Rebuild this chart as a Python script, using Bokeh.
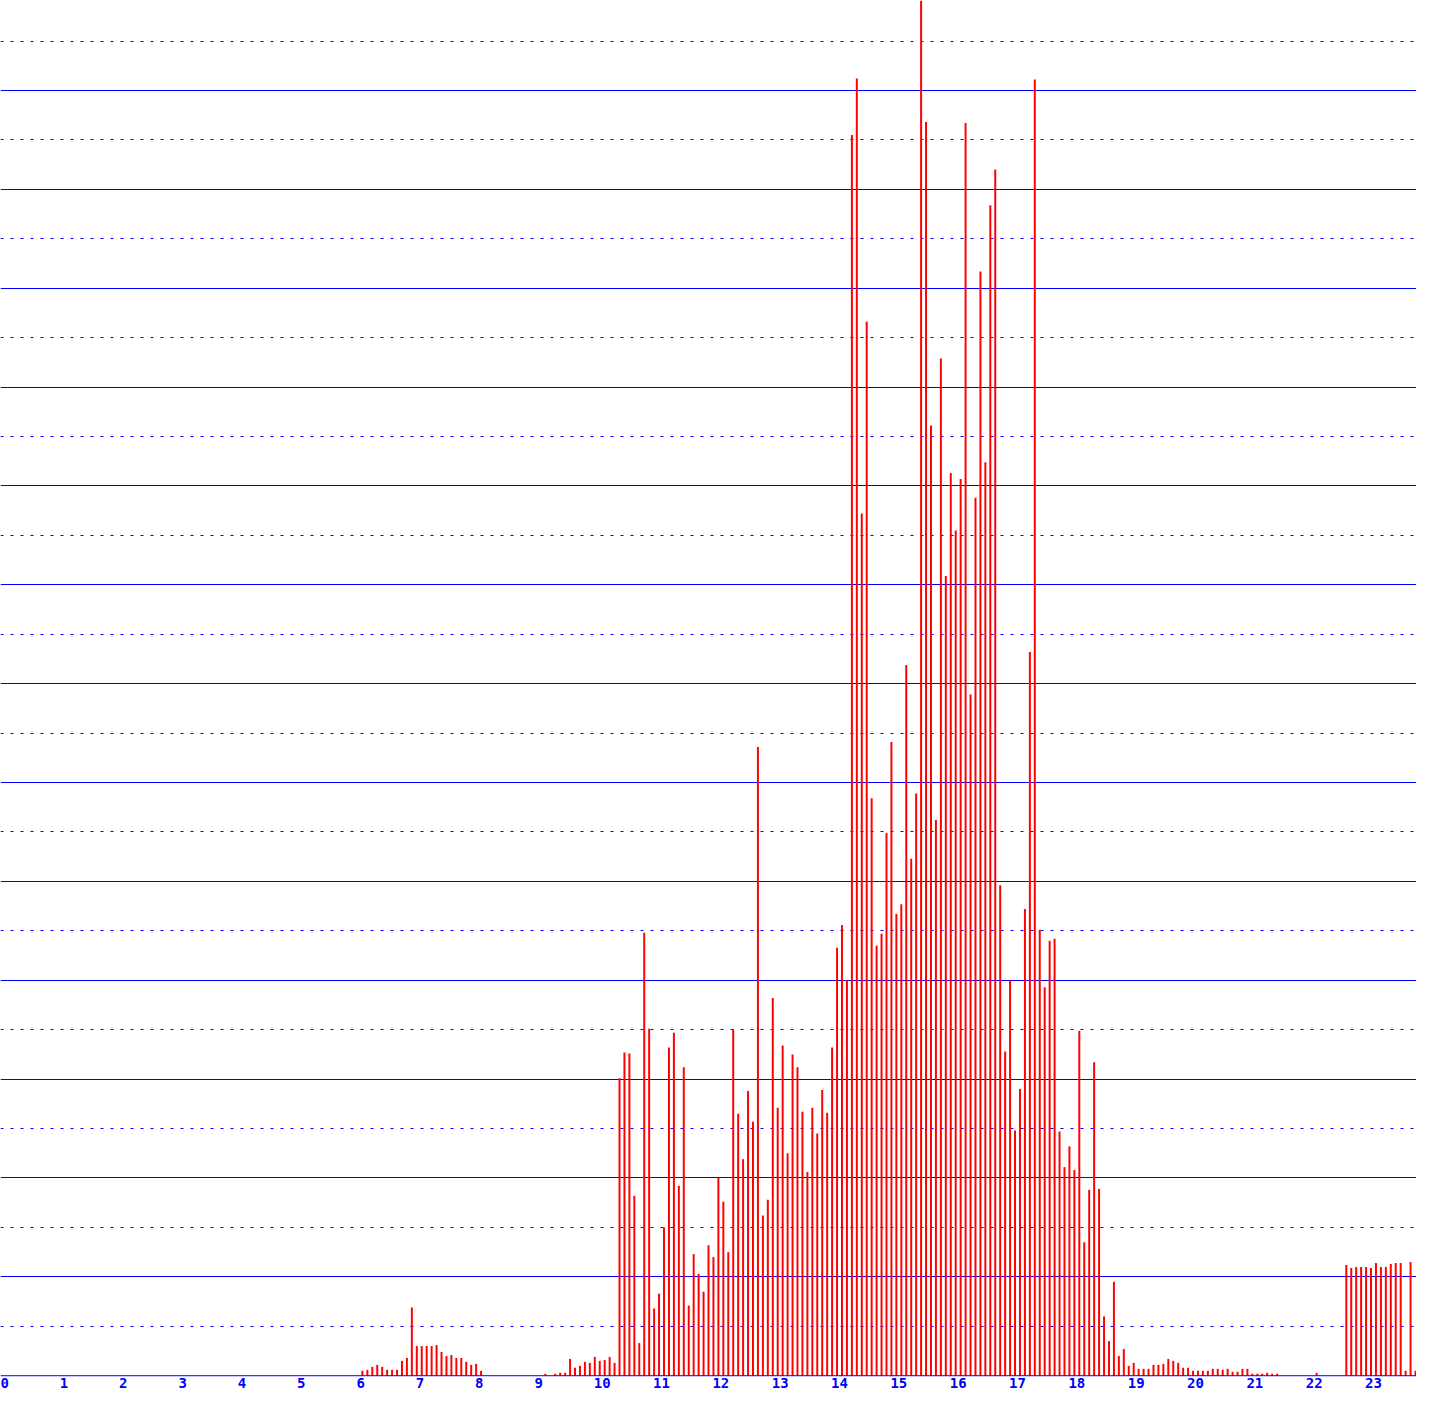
from bokeh.plotting import figure
from bokeh.models import Range1d, Grid, FixedTicker, Span, ColumnDataSource
from bokeh.core.properties import value
from bokeh.embed import file_html
from bokeh.resources import INLINE

# ---- data: one value per 5-minute slot, 12 slots per hour ----
hour_labels = [str(h) for h in range(24)]
slot_minutes = list(range(0, 24 * 60, 5))

h00_05 = [0] * 72
h06 = [0.05, 0.06, 0.09, 0.11, 0.09, 0.06, 0.06, 0.06, 0.15, 0.18, 0.69, 0.30]
h07 = [0.30, 0.30, 0.30, 0.31, 0.24, 0.20, 0.21, 0.18, 0.18, 0.14, 0.11, 0.12]
h08 = [0.05, 0, 0, 0, 0, 0, 0, 0, 0, 0, 0, 0]
h09 = [0, 0.02, 0, 0.02, 0.03, 0.03, 0.17, 0.08, 0.10, 0.14, 0.13, 0.19]
h10 = [0.15, 0.16, 0.19, 0.13, 3.01, 3.27, 3.26, 1.82, 0.33, 4.48, 3.51, 0.68]
h11 = [0.83, 1.50, 3.32, 3.47, 1.92, 3.12, 0.71, 1.23, 1.03, 0.85, 1.32, 1.20]
h12 = [2.00, 1.76, 1.25, 3.50, 2.65, 2.19, 2.88, 2.57, 6.36, 1.62, 1.78, 3.82]
h13 = [2.71, 3.34, 2.25, 3.25, 3.12, 2.67, 2.06, 2.71, 2.45, 2.89, 2.66, 3.32]
h14 = [4.33, 4.56, 4.00, 12.55, 13.12, 8.72, 10.66, 5.84, 4.35, 4.47, 5.49, 6.41]
h15 = [4.67, 4.77, 7.19, 5.23, 5.89, 13.95, 12.68, 9.61, 5.62, 10.29, 8.09, 9.13]
h16 = [8.55, 9.07, 12.67, 6.89, 8.88, 11.17, 9.24, 11.84, 12.20, 4.96, 3.28, 4.00]
h17 = [2.48, 2.90, 4.72, 7.32, 13.11, 4.51, 3.93, 4.40, 4.42, 2.47, 2.11, 2.32]
h18 = [2.08, 3.49, 1.35, 1.88, 3.17, 1.89, 0.60, 0.35, 0.95, 0.20, 0.27, 0.10]
h19 = [0.13, 0.07, 0.07, 0.07, 0.11, 0.11, 0.12, 0.17, 0.15, 0.13, 0.08, 0.08]
h20 = [0.05, 0.05, 0.05, 0.05, 0.07, 0.07, 0.06, 0.07, 0.04, 0.04, 0.07, 0.07]
h21 = [0.02, 0.02, 0.02, 0.03, 0.02, 0.02, 0, 0, 0, 0, 0, 0]
h22 = [0, 0.03, 0, 0, 0, 0, 0, 1.12, 1.09, 1.10, 1.10, 1.10]
h23 = [1.09, 1.14, 1.10, 1.10, 1.13, 1.14, 1.14, 0.05, 1.15, 0.05, 0, 0]

counts = (h00_05 + h06 + h07 + h08 + h09 + h10 + h11 + h12 + h13 + h14 + h15
          + h16 + h17 + h18 + h19 + h20 + h21 + h22 + h23)

BLUE = "#0000FF"
RED = "#FF0000"

p = figure(width=1416, height=1395,
           x_range=Range1d(-4, 1428), y_range=Range1d(-0.20, 13.91),
           x_axis_location=None, y_axis_location=None,
           toolbar_location=None, output_backend="svg",
           min_border=0, outline_line_color=None,
           background_fill_color="white", border_fill_color="white")
p.grid.visible = False

# grid lines: solid at whole units, dotted at half units
solid_grid = Grid(dimension=1, ticker=FixedTicker(ticks=[float(v) for v in range(1, 14)]),
                  grid_line_color=BLUE, grid_line_width=1)
dotted_grid = Grid(dimension=1, ticker=FixedTicker(ticks=[v + 0.5 for v in range(0, 14)]),
                   grid_line_color=BLUE, grid_line_width=1, grid_line_dash="3 7")
p.add_layout(solid_grid)
p.add_layout(dotted_grid)

# bars
src = ColumnDataSource(data=dict(x=[m + 2 for m in slot_minutes], top=counts))
p.vbar(x="x", width=2, top="top", bottom=0, source=src,
       fill_color=RED, line_color=None)

# baseline
p.add_layout(Span(location=0, dimension="width", line_color=BLUE, line_width=1))

# hour labels
lab = ColumnDataSource(data=dict(x=[h * 60 for h in range(24)], y=[0] * 24, t=hour_labels))
p.text(x="x", y="y", text="t", source=lab, x_offset=-4, y_offset=2,
       text_align="left", text_baseline="top", text_color=BLUE,
       text_font=value("DejaVu Sans Mono"), text_font_style="bold",
       text_font_size="14px")

open("out.html", "w").write(file_html(p, INLINE))
